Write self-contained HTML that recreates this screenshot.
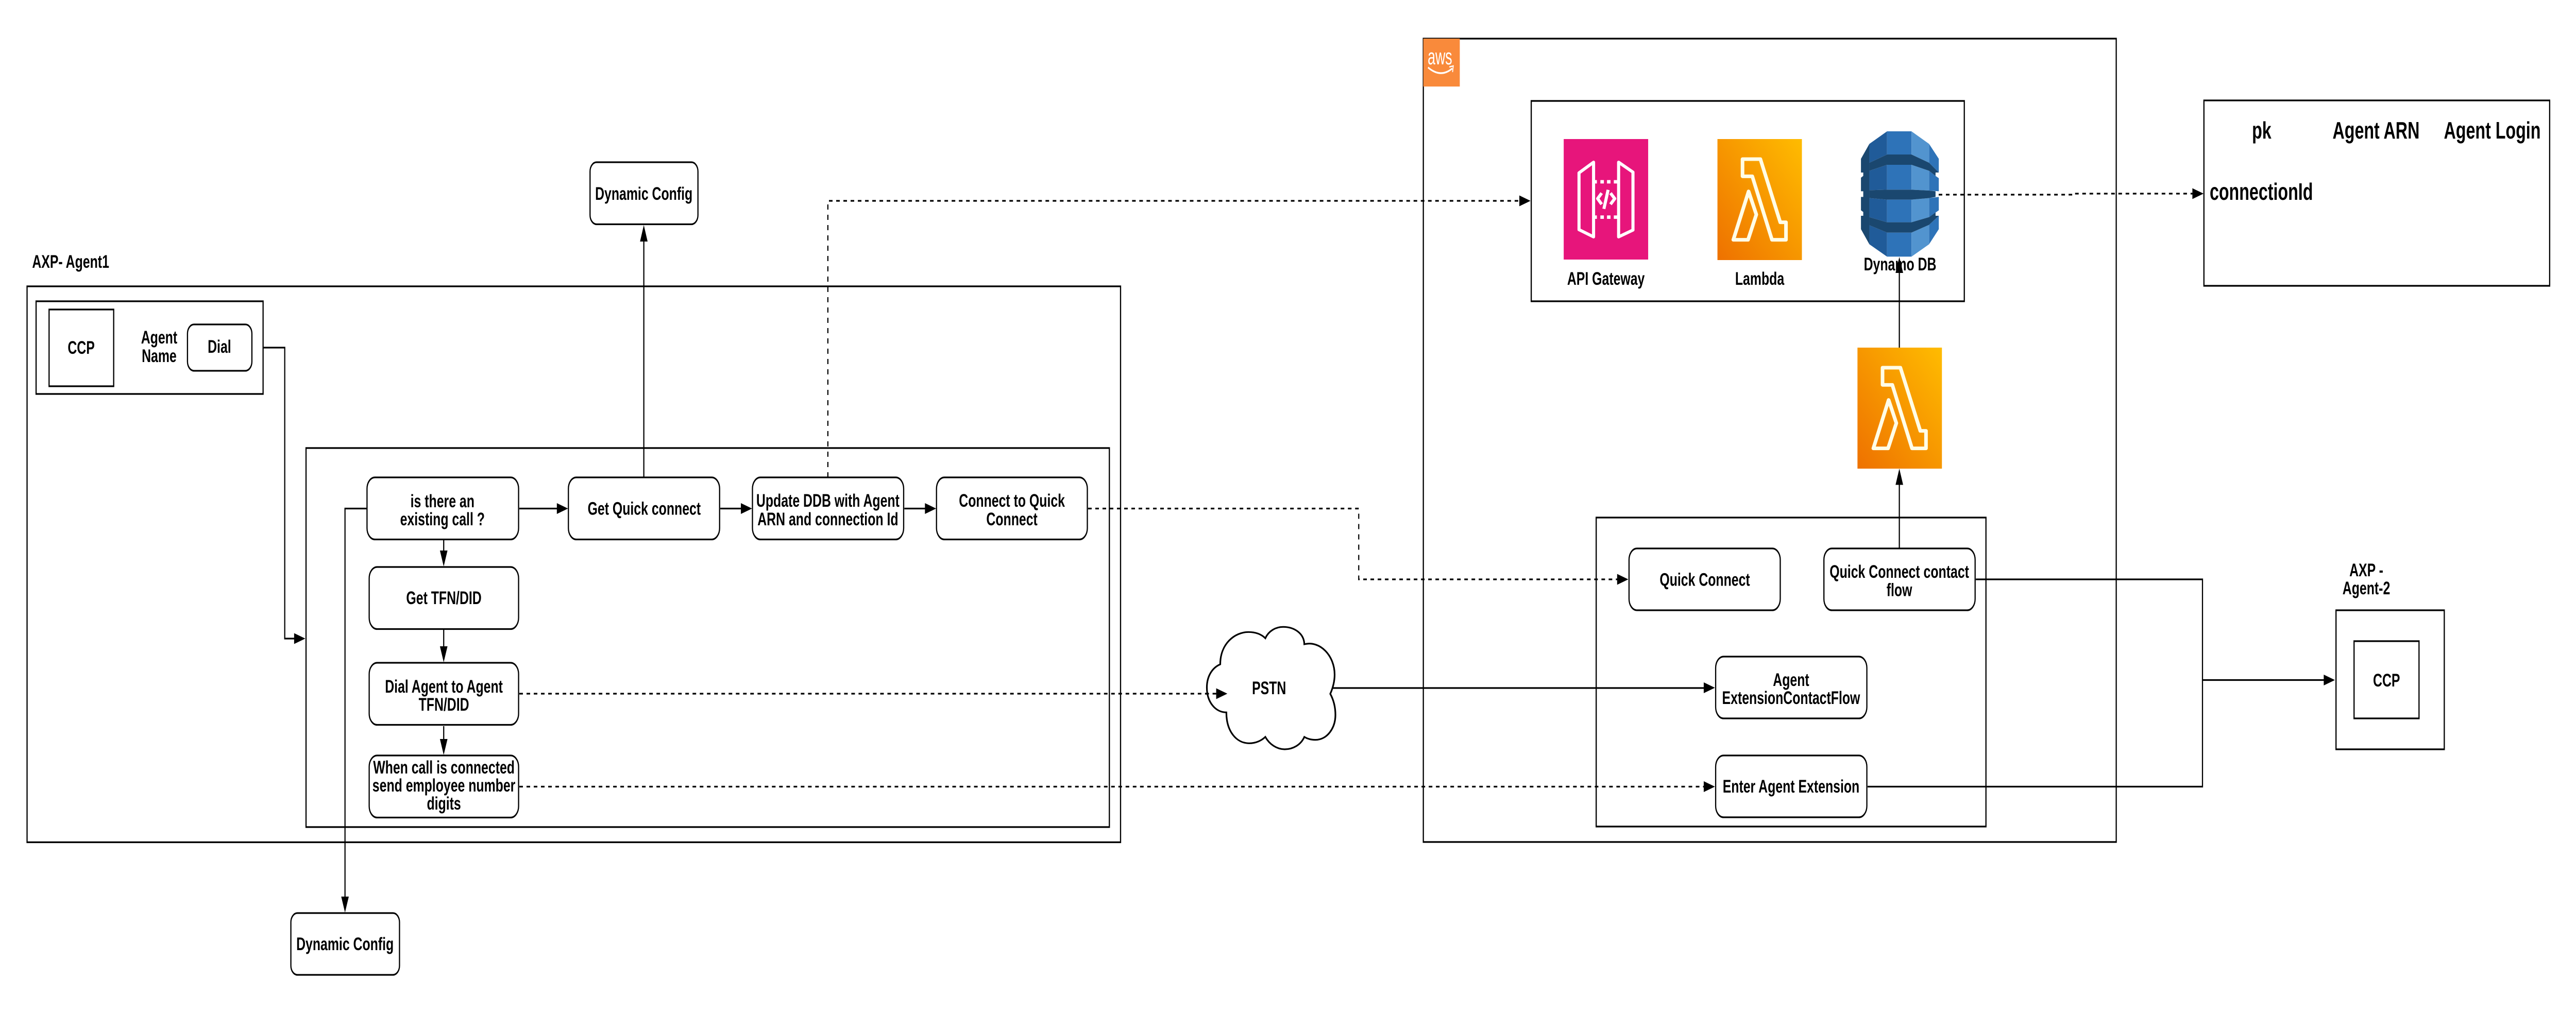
<!DOCTYPE html>
<html><head><meta charset="utf-8"><title>Diagram</title>
<style>
html,body{margin:0;padding:0;background:#fff;width:100%;height:100%;overflow:hidden}
svg{display:block;width:100vw;height:100vh}
text{font-family:"Liberation Sans",sans-serif;font-weight:bold;font-size:35.5px;fill:#000;text-anchor:middle}
.b{fill:none;stroke:#000;stroke-width:3.3}
.w{fill:#fff;stroke:#000;stroke-width:3.3}
.l{fill:none;stroke:#000;stroke-width:3.2}
.d{fill:none;stroke:#000;stroke-width:3.2;stroke-dasharray:10 10}
.big{font-size:46px}
.lam{fill:none;stroke:#fffde7;stroke-width:13;stroke-linejoin:round;vector-effect:non-scaling-stroke}
</style></head><body>
<svg xmlns="http://www.w3.org/2000/svg" viewBox="0 0 7138 1969" preserveAspectRatio="none">
<defs>
<linearGradient id="lg" x1="0" y1="1" x2="1" y2="0"><stop offset="0" stop-color="#ee7100"/><stop offset="1" stop-color="#ffbc00"/></linearGradient>
</defs>
<rect width="7138" height="1969" fill="#fff"/>

<!-- containers -->
<rect class="b" x="75" y="556" width="3030" height="1079.5"/>
<rect class="b" x="100" y="585" width="629" height="180"/>
<rect class="b" x="136" y="601" width="179" height="149"/>
<rect class="b" x="848" y="870" width="2226" height="736"/>
<rect class="b" x="3944" y="75" width="1920" height="1560"/>
<rect class="b" x="4243" y="196" width="1200" height="389"/>
<rect class="b" x="4423" y="1005" width="1080" height="600"/>
<rect class="b" x="6107" y="195" width="958" height="360"/>
<rect class="b" x="6473" y="1185" width="300" height="270"/>
<rect class="b" x="6523" y="1245" width="180" height="150"/>

<!-- AWS logo -->
<rect x="3944" y="75" width="101" height="93" fill="#f98a3b"/>
<text x="3990" y="125" style="font-size:44px;font-weight:normal;fill:#fff" textLength="68" lengthAdjust="spacingAndGlyphs">aws</text>
<path d="M3957 131 Q3992 152 4024 133" fill="none" stroke="#fff" stroke-width="3.5"/>
<path d="M4016 130 L4027 128 L4025 140" fill="none" stroke="#fff" stroke-width="2.5"/>

<!-- connectors -->
<path class="l" d="M729 675 H789 V1240 H816"/>
<polygon points="815,1229.5 846,1240 815,1250.5"/>
<path class="l" d="M1017 987.5 H956 V1742"/>
<polygon points="945.5,1741 966.5,1741 956,1772"/>
<path class="l" d="M1439 987.5 H1545"/><polygon points="1543,977 1574,987.5 1543,998"/>
<path class="l" d="M1996 987.5 H2055"/><polygon points="2053,977 2084,987.5 2053,998"/>
<path class="l" d="M2506 987.5 H2565"/><polygon points="2563,977 2594,987.5 2563,998"/>
<path class="l" d="M1229.5 1049 V1070"/><polygon points="1219,1069 1240,1069 1229.5,1100"/>
<path class="l" d="M1229.5 1223 V1256"/><polygon points="1219,1255 1240,1255 1229.5,1286"/>
<path class="l" d="M1229.5 1410 V1436"/><polygon points="1219,1435 1240,1435 1229.5,1466"/>
<path class="l" d="M1784 927 V468"/><polygon points="1773.5,469 1794.5,469 1784,437"/>
<path class="d" d="M2294 927 V390 H4212"/><polygon points="4210,379.5 4241,390 4210,400.5"/>
<path class="d" d="M3015 987.5 H3765 V1125 H4482"/><polygon points="4481,1114.5 4512,1125 4481,1135.5"/>
<path class="d" d="M1439 1347 H3372"/>
<path class="d" d="M1439 1527.5 H4722"/><polygon points="4721,1517 4752,1527.5 4721,1538"/>
<path class="l" d="M3691 1336 H4722"/><polygon points="4721,1325 4752,1335.5 4721,1346"/>
<path class="l" d="M5475 1125 H6103 V1527.5 H5175"/>
<path class="l" d="M6103 1320.5 H6440"/><polygon points="6439,1310 6470,1320.5 6439,1331"/>
<path class="l" d="M5263 1065 V940"/><polygon points="5252.5,941.5 5273.5,941.5 5263,910"/>
<path class="d" d="M5372 378 H5750 V376 H6077"/><polygon points="6075,365.5 6106,376 6075,386.5"/>

<!-- rounded nodes -->
<rect class="w" x="1635" y="315" width="299" height="120.5" rx="18"/>
<rect class="w" x="806" y="1773" width="301" height="120" rx="18"/>
<rect class="w" x="519.5" y="630" width="178.5" height="90" rx="18"/>
<rect class="w" x="1017" y="927" width="420" height="120.5" rx="22"/>
<rect class="w" x="1575" y="927" width="419" height="120.5" rx="22"/>
<rect class="w" x="2085" y="927" width="419" height="120.5" rx="22"/>
<rect class="w" x="2595" y="927" width="418" height="120.5" rx="22"/>
<rect class="w" x="1023" y="1101" width="414" height="120.5" rx="22"/>
<rect class="w" x="1023" y="1287" width="414" height="120.5" rx="22"/>
<rect class="w" x="1023" y="1467" width="414" height="120.5" rx="22"/>
<rect class="w" x="4514" y="1065" width="419" height="120" rx="22"/>
<rect class="w" x="5054" y="1065" width="419" height="120" rx="22"/>
<rect class="w" x="4754" y="1275" width="419" height="120" rx="22"/>
<rect class="w" x="4754" y="1467" width="419" height="120" rx="22"/>

<!-- cloud -->
<g transform="translate(3100 1150) scale(.4464 .3333)">
<path d="M630 420 C630 300 720 232 805 232 C850 232 885 245 910 268 C930 225 975 202 1020 202 C1090 202 1150 240 1152 303 C1250 280 1340 370 1340 480 C1340 525 1328 560 1313 592 C1335 630 1345 670 1345 715 C1345 790 1295 860 1220 860 C1195 860 1170 853 1152 843 C1130 890 1080 915 1030 915 C980 915 935 885 910 843 C885 865 850 880 810 880 C730 880 668 810 668 700 C600 700 547 640 547 555 C547 490 580 440 630 420 Z" fill="#fff" stroke="#000" stroke-width="3.2" vector-effect="non-scaling-stroke"/>
</g>
<path class="d" d="M3340 1347 H3372"/>
<polygon points="3370,1336.5 3401,1347 3370,1357.5"/>

<!-- API Gateway icon -->
<rect x="4333" y="270" width="234" height="234" fill="#e7157b"/>
<g transform="translate(4280 240) scale(.5102 .3333)">
<g fill="none" stroke="#fff" stroke-width="6" stroke-linejoin="round">
<polygon vector-effect="non-scaling-stroke" points="187,287 266,225 266,660 187,618"/>
<polygon vector-effect="non-scaling-stroke" points="402,225 480,283 480,620 402,660"/>
<polyline vector-effect="non-scaling-stroke" points="310,405 288,437 310,470"/>
<polyline vector-effect="non-scaling-stroke" points="358,405 381,437 358,470"/>
<line vector-effect="non-scaling-stroke" x1="345" y1="386" x2="322" y2="497"/>
</g>
<g fill="#fff">
<rect x="272" y="329" width="12" height="20"/><rect x="303" y="329" width="19" height="20"/><rect x="339" y="329" width="19" height="20"/><rect x="376" y="329" width="19" height="20"/>
<rect x="272" y="535" width="12" height="20"/><rect x="303" y="535" width="19" height="20"/><rect x="339" y="535" width="19" height="20"/><rect x="376" y="535" width="19" height="20"/>
</g>
</g>

<!-- Lambda icons -->
<rect x="4759" y="270" width="234" height="235" fill="url(#lg)"/>
<g transform="translate(4280 240) scale(.5102 .3333)">
<path class="lam" style="stroke-width:7" d="M1075 207 H1172 L1280 575 H1311 V677 H1235 L1128 307 H1075 Z"/>
<path class="lam" style="stroke-width:7" d="M1108 395 L1150 530 L1105 677 H1025 Z"/>
</g>
<rect x="5147" y="675" width="234" height="235" fill="url(#lg)"/>
<g transform="translate(4668 645) scale(.5102 .3333)">
<path class="lam" style="stroke-width:7" d="M1075 207 H1172 L1280 575 H1311 V677 H1235 L1128 307 H1075 Z"/>
<path class="lam" style="stroke-width:7" d="M1108 395 L1150 530 L1105 677 H1025 Z"/>
</g>

<!-- DynamoDB icon -->
<g transform="translate(5100 230) scale(.33333)">
<polygon fill="#1a476f" points="170,235 240,148 240,733 170,645 170,567 189,567 189,545 170,535 170,457 189,457 189,424 170,424 170,345 189,335 189,315 170,315"/>
<g fill="#205b99">
<polygon points="240,148 387,75 387,210 240,258"/><polygon points="240,305 387,270 387,415 240,418"/><polygon points="240,464 387,473 387,605 240,575"/><polygon points="240,622 387,665 387,805 240,733"/>
</g>
<g fill="#2e73b8">
<rect x="387" y="75" width="203" height="135"/><rect x="387" y="270" width="203" height="145"/><rect x="387" y="473" width="203" height="132"/><rect x="387" y="665" width="203" height="140"/>
<polygon points="736,148 817,235 817,315 736,258"/><polygon points="736,305 790,335 817,348 817,424 736,420"/><polygon points="736,464 817,457 817,535 736,575"/><polygon points="736,620 817,567 817,645 736,733"/>
</g>
<g fill="#5294cf">
<polygon points="590,75 736,148 736,258 590,210"/><polygon points="590,270 736,305 736,420 590,415"/><polygon points="590,473 736,464 736,575 590,605"/><polygon points="590,665 736,620 736,733 590,805"/>
</g>
<g fill="#1a476f">
<polygon points="240,258 387,210 590,210 736,258 817,315 790,315 790,335 736,305 590,270 387,270 240,305"/>
<polygon points="240,418 387,415 590,415 736,420 790,424 790,457 736,464 590,473 387,473 240,464"/>
<polygon points="240,575 387,605 590,605 736,575 790,548 790,567 817,567 736,620 590,665 387,665 240,622"/>
</g>
</g>

<!-- labels -->
<text x="89" y="520" style="text-anchor:start">AXP- Agent1</text>
<text x="225" y="687">CCP</text>
<text x="441" y="667">Agent</text>
<text x="441" y="703">Name</text>
<text x="608" y="685">Dial</text>
<text x="1784" y="388">Dynamic Config</text>
<text x="956" y="1845">Dynamic Config</text>
<text x="1226" y="985">is there an</text>
<text x="1226" y="1020">existing call ?</text>
<text x="1785" y="999.5">Get Quick connect</text>
<text x="2294" y="984">Update DDB with Agent</text>
<text x="2294" y="1020">ARN and connection Id</text>
<text x="2804" y="984">Connect to Quick</text>
<text x="2804" y="1020">Connect</text>
<text x="1230" y="1173">Get TFN/DID</text>
<text x="1230" y="1345">Dial Agent to Agent</text>
<text x="1230" y="1380">TFN/DID</text>
<text x="1230" y="1502">When call is connected</text>
<text x="1230" y="1537">send employee number</text>
<text x="1230" y="1572">digits</text>
<text x="3516.5" y="1348">PSTN</text>
<text x="4450" y="553">API Gateway</text>
<text x="4876" y="553">Lambda</text>
<text x="5265" y="525">Dynamo DB</text>
<polygon points="5252.5,530 5273.5,530 5263,499"/>
<path class="l" d="M5263 675 V529"/>
<text x="4724" y="1137.5">Quick Connect</text>
<text x="5263" y="1122">Quick Connect contact</text>
<text x="5263" y="1157.5">flow</text>
<text x="4963" y="1332">Agent</text>
<text x="4963" y="1367">ExtensionContactFlow</text>
<text x="4963" y="1539">Enter Agent Extension</text>
<text x="6267" y="269" class="big">pk</text>
<text x="6584" y="269" class="big">Agent ARN</text>
<text x="6906" y="269" class="big">Agent Login</text>
<text x="6266" y="388" class="big">connectionId</text>
<text x="6557" y="1119">AXP -</text>
<text x="6557" y="1154">Agent-2</text>
<text x="6613" y="1333">CCP</text>
</svg>
</body></html>
